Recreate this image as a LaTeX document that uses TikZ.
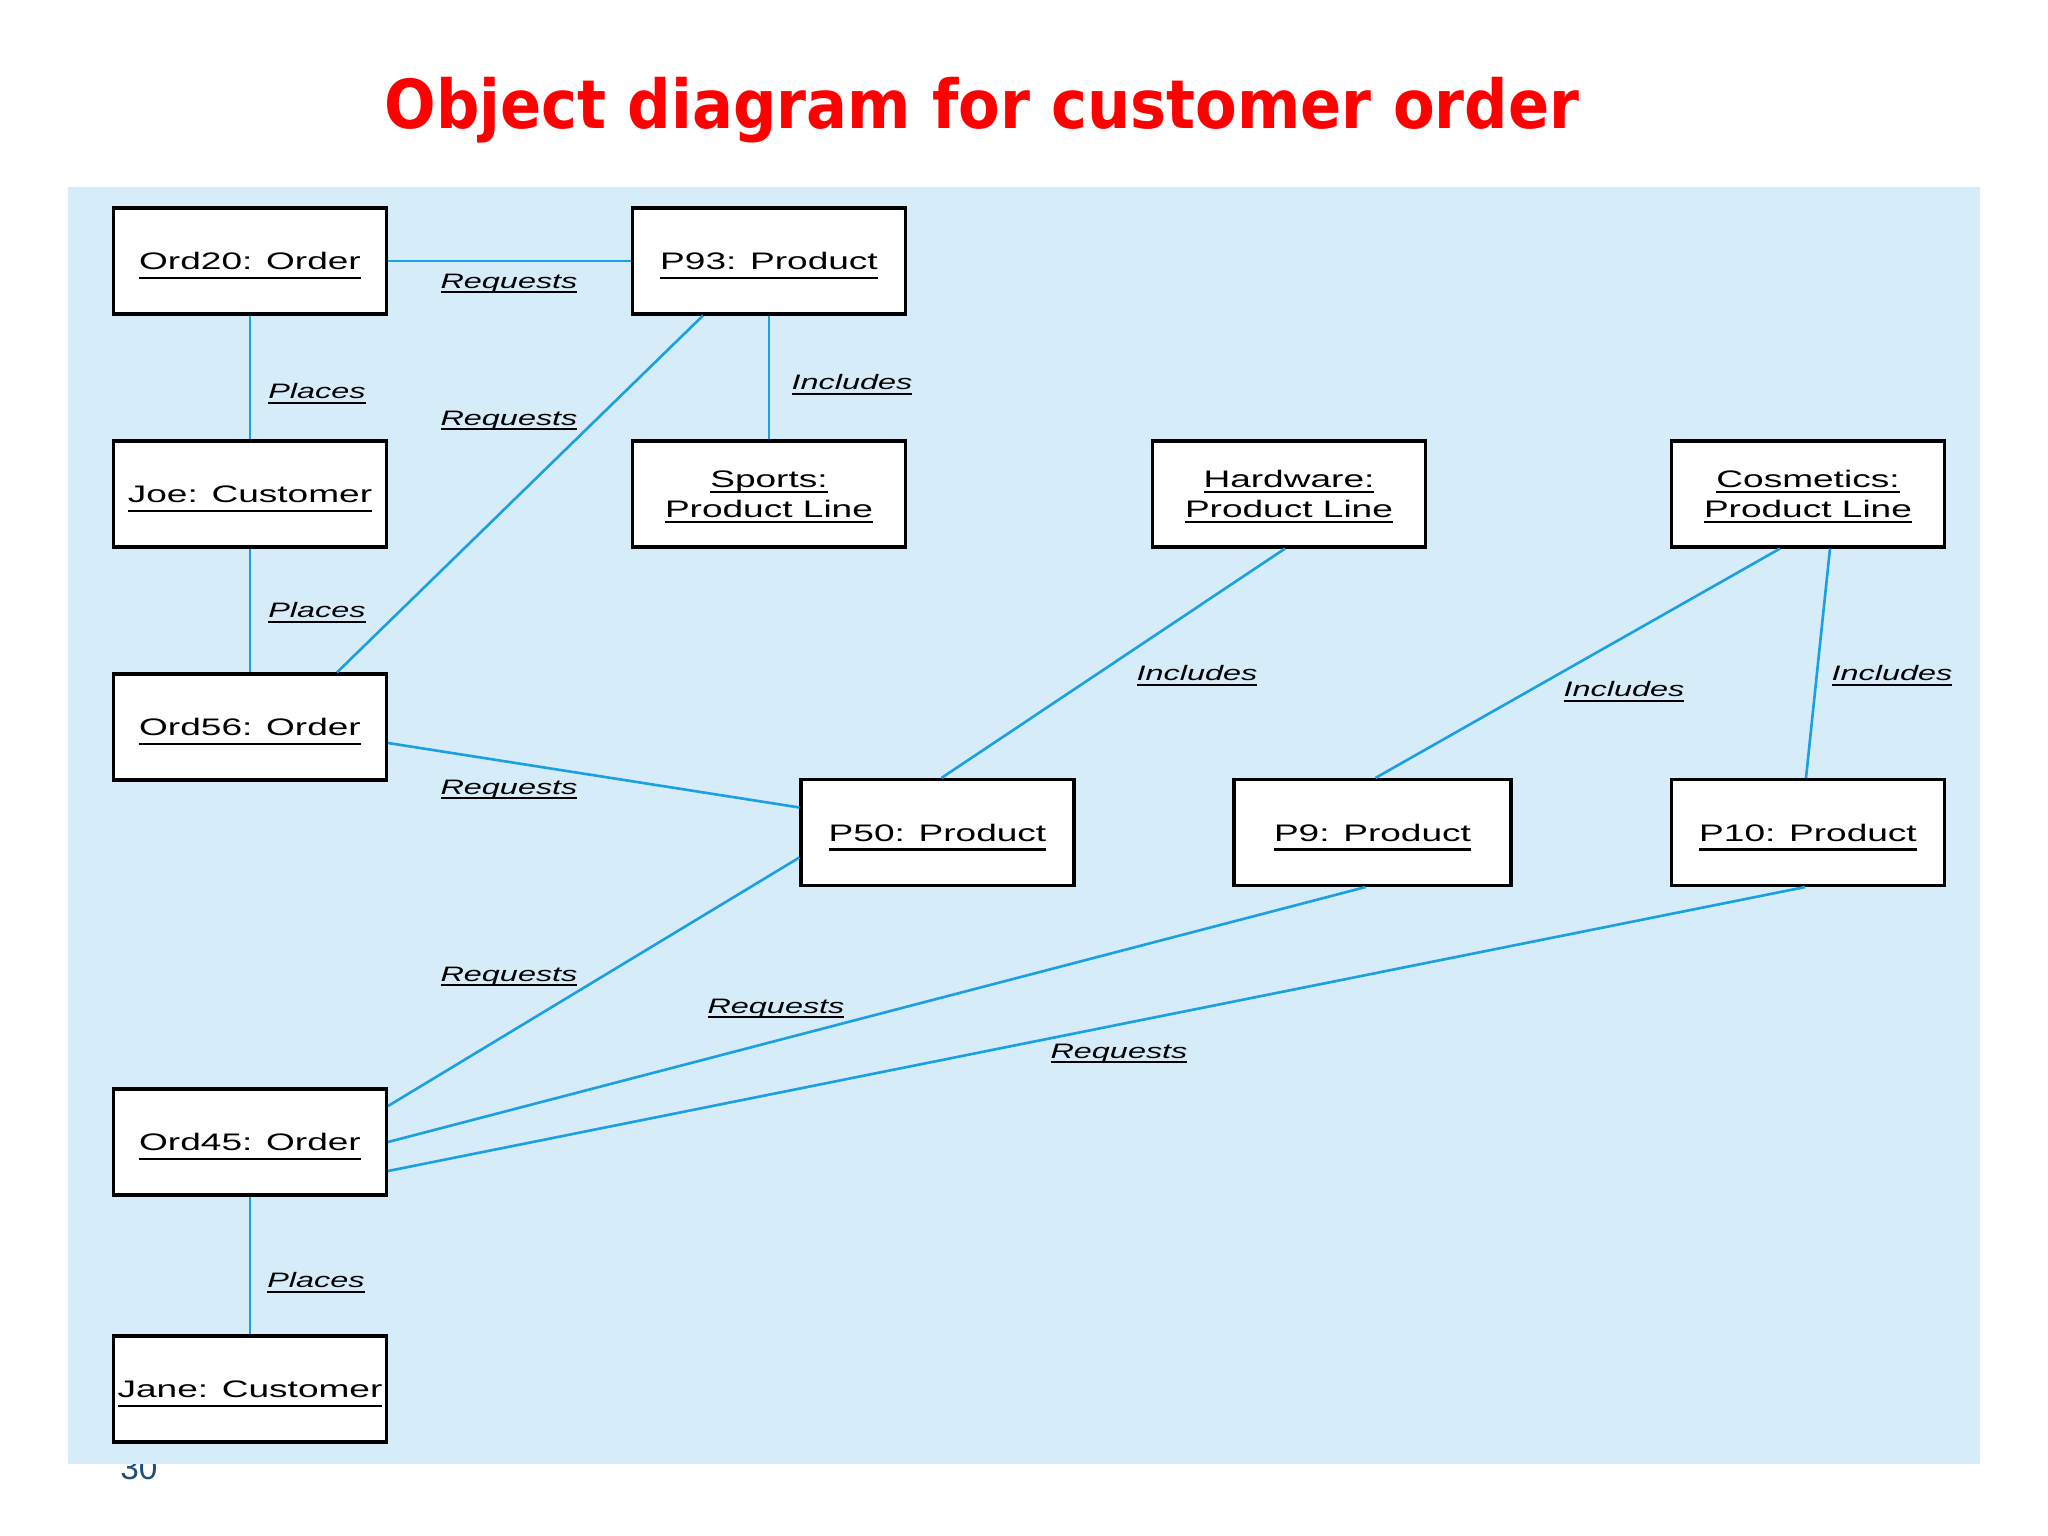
\documentclass[tikz,border=0pt]{standalone}
\usepackage{fontspec}
\setmainfont{Liberation Sans}
\newfontfamily\titlefont{DejaVu Sans}[FakeStretch=0.9]
\newfontfamily\objfont{Liberation Sans}[FakeStretch=1.55]
\newcommand\undl[2][2.7pt]{\setbox0=\hbox{#2}\leavevmode\rlap{\smash{\rule[-#1]{\wd0}{0.6pt}}}\box0}
\definecolor{panelblue}{RGB}{214,237,249}
\definecolor{linkblue}{RGB}{27,161,226}
\definecolor{pagenum}{RGB}{31,78,121}
\begin{document}
\lineskiplimit=-20pt
\begin{tikzpicture}[
    obj/.style={draw,line width=0.9pt,fill=white,minimum width=2.73cm,minimum height=1.06cm,inner sep=0pt,align=center,font=\objfont\fontsize{6.8}{8.5}\selectfont},
    link/.style={linkblue,line width=0.75pt},
    role/.style={inner sep=0pt,font=\objfont\fontsize{5.95}{7}\selectfont\itshape}
  ]
\useasboundingbox (0,0) rectangle (20.48,-15.36);
\node[text=pagenum,font=\fontsize{9.5}{10}\selectfont,inner sep=0pt] (pg) at (1.39,-14.68) {30};
\fill[panelblue] (0.68,-1.87) rectangle (19.80,-14.64);
\node[text=red,font=\titlefont\fontsize{19.2}{22}\selectfont\bfseries,anchor=base] (title) at (9.82,-1.29) {Object diagram for customer order};
\node[obj] (ord20) at (2.50,-2.61) {\undl{Ord20: Order}};
\node[obj] (p93) at (7.69,-2.61) {\undl{P93: Product}};
\node[obj] (joe) at (2.50,-4.94) {\undl{Joe: Customer}};
\node[obj] (sports) at (7.69,-4.94) {\undl[1.6pt]{Sports:}\\\undl[1.6pt]{Product Line}};
\node[obj] (hardware) at (12.89,-4.94) {\undl[1.6pt]{Hardware:}\\\undl[1.6pt]{Product Line}};
\node[obj] (cosmetics) at (18.08,-4.94) {\undl[1.6pt]{Cosmetics:}\\\undl[1.6pt]{Product Line}};
\node[obj] (ord56) at (2.50,-7.27) {\undl{Ord56: Order}};
\node[obj] (p50) at (9.375,-8.325) {\undl{P50: Product}};
\node[obj,minimum width=2.77cm] (p9) at (13.725,-8.325) {\undl{P9: Product}};
\node[obj] (p10) at (18.08,-8.325) {\undl{P10: Product}};
\node[obj] (ord45) at (2.50,-11.42) {\undl{Ord45: Order}};
\node[obj] (jane) at (2.50,-13.89) {\undl{Jane: Customer}};
\draw[link] (ord20) -- (p93);
\draw[link] (ord20) -- (joe);
\draw[link] (p93) -- (sports);
\draw[link] ([xshift=-6.6mm]p93.south) -- ([xshift=8.7mm]ord56.north);
\draw[link] (joe) -- (ord56);
\draw[link] ([xshift=-0.4mm]hardware.south) -- ([xshift=0.4mm]p50.north);
\draw[link] ([xshift=-2.8mm]cosmetics.south) -- ([xshift=0.3mm]p9.north);
\draw[link] ([xshift=2.2mm]cosmetics.south) -- ([xshift=-0.2mm]p10.north);
\draw[link] ([yshift=-1.6mm]ord56.east) -- ([yshift=2.5mm]p50.west);
\draw[link] ([yshift=-2.5mm]p50.west) -- ([yshift=3.6mm]ord45.east);
\draw[link] ([xshift=-0.7mm]p9.south) -- (ord45.east);
\draw[link] ([xshift=-0.3mm]p10.south) -- ([yshift=-2.9mm]ord45.east);
\draw[link] (ord45) -- (jane);
\node[role] (rq1) at (5.09,-2.83) {\undl[1.5pt]{Requests}};
\node[role] (pl1) at (3.17,-3.91) {\undl[1.5pt]{Places}};
\node[role] (rq2) at (5.09,-4.20) {\undl[1.5pt]{Requests}};
\node[role] (in1) at (8.52,-3.82) {\undl[1.5pt]{Includes}};
\node[role] (pl2) at (3.17,-6.10) {\undl[1.5pt]{Places}};
\node[role] (in2) at (11.97,-6.73) {\undl[1.5pt]{Includes}};
\node[role] (in3) at (16.24,-6.89) {\undl[1.5pt]{Includes}};
\node[role] (in4) at (18.92,-6.73) {\undl[1.5pt]{Includes}};
\node[role] (rq3) at (5.09,-7.89) {\undl[1.5pt]{Requests}};
\node[role] (rq4) at (5.09,-9.76) {\undl[1.5pt]{Requests}};
\node[role] (rq5) at (7.76,-10.08) {\undl[1.5pt]{Requests}};
\node[role] (rq6) at (11.19,-10.53) {\undl[1.5pt]{Requests}};
\node[role] (pl3) at (3.16,-12.80) {\undl[1.5pt]{Places}};
\end{tikzpicture}
\end{document}
